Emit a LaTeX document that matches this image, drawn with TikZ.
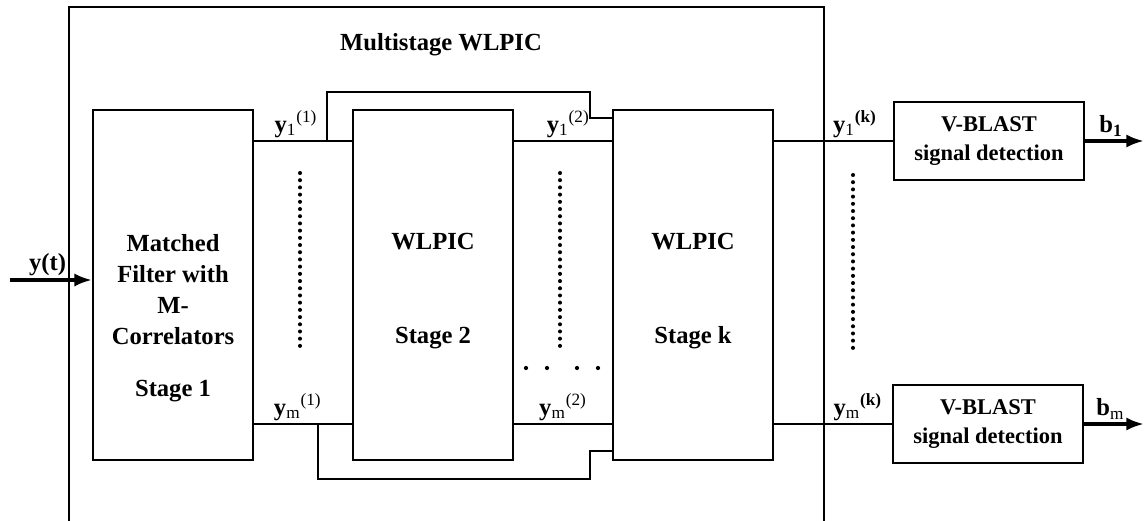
\documentclass[tikz,border=0pt]{standalone}
\usepackage{fontspec}
\setmainfont{Liberation Serif}
\usetikzlibrary{positioning,arrows.meta}

\begin{document}
\begin{tikzpicture}[x=0.02cm, y=-0.02cm, >={Latex[length=10pt,width=7.5pt]},
    every node/.style={font=\bfseries\fontsize{14}{17.6}\selectfont},
    % styles
    stagebox/.style={
        draw, line width=1.1pt, minimum width=3.2cm, minimum height=7cm, inner sep=0pt
    },
    stagetxt/.style={
        align=center, inner sep=0pt
    },
    vbbox/.style={
        draw, line width=1.1pt, minimum width=3.8cm, minimum height=1.56cm,
        align=center, font=\bfseries\fontsize{12.8}{16}\selectfont
    },
    wire/.style={
        line width=1.1pt
    },
    sig/.style={
        ->, line width=2pt
    },
    frame/.style={
        line width=1pt
    },
    lbl/.style={
        above, inner sep=1.5pt
    },
    vdots/.style={
        line width=2.3pt, line cap=round, dash pattern=on 0pt off 4.1pt
    }
]
\useasboundingbox (0,0) rectangle (1144,521);

% outer frame (cut at the bottom)
\draw[frame] (69,521) |- (824,7) -- (824,521);
\node (title) at (441,45) {Multistage WLPIC};

% =============================================
% stages
% =============================================
\node[stagebox] (s1) at (173,285) {};
\node[stagetxt] (s1txt) at (173,318) {Matched\\Filter with\\M-\\Correlators\\[12pt]Stage 1};

\node[stagebox] (s2) at (433,285) {};
\node[stagetxt] (s2txt) at (433,291) {WLPIC\\[36pt]Stage 2};

\node[stagebox] (sk) at (693,285) {};
\node[stagetxt] (sktxt) at (693,291) {WLPIC\\[36pt]Stage k};

% detectors
\node[vbbox] (vb1) at (989,141) {V-BLAST\\signal detection};
\node[vbbox] (vbm) at (988,424) {V-BLAST\\signal detection};

% =============================================
% signal lines
% =============================================
\coordinate (yin) at (10,280);
\draw[sig] (yin) -- (s1.west |- yin) node[lbl, midway, xshift=-2pt] {y(t)};

\draw[wire] (s1.east |- vb1) -- (s2.west |- vb1)
    node[lbl, midway, xshift=-4pt] {y\textsubscript{\mdseries 1}\textsuperscript{\mdseries (1)}};
\draw[wire] (s2.east |- vb1) -- (sk.west |- vb1)
    node[lbl, midway, xshift=3pt] {y\textsubscript{\mdseries 1}\textsuperscript{\mdseries (2)}};
\draw[wire] (sk.east |- vb1) -- (vb1.west)
    node[lbl, pos=0.68] {y\textsubscript{\mdseries 1}\textsuperscript{(k)}};

\draw[wire] (s1.east |- vbm) -- (s2.west |- vbm)
    node[lbl, midway, xshift=-3pt] {y\textsubscript{\mdseries m}\textsuperscript{\mdseries (1)}};
\draw[wire] (s2.east |- vbm) -- (sk.west |- vbm)
    node[lbl, midway] {y\textsubscript{\mdseries m}\textsuperscript{\mdseries (2)}};
\draw[wire] (sk.east |- vbm) -- (vbm.west)
    node[lbl, pos=0.71] {y\textsubscript{\mdseries m}\textsuperscript{(k)}};

% feedback from stage 1 to stage k
\coordinate (fbt) at (327,141);
\coordinate (fbtin) at (590,118);
\draw[wire] (fbt) |- (fbtin |- 0,92) -- (fbtin) -- (sk.west |- fbtin);

\coordinate (fbb) at (318,424);
\coordinate (fbbin) at (590,451);
\draw[wire] (fbb) -- ++(0,55) -| (fbbin) -- (sk.west |- fbbin);

% outputs
\coordinate (b1out) at (1144,141);
\coordinate (bmout) at (1144,424);
\draw[sig] (vb1.east) -- (b1out) node[lbl, midway, xshift=-2pt] {b\textsubscript{1}};
\draw[sig] (vbm.east) -- (bmout) node[lbl, midway, xshift=-2pt] {b\textsubscript{\mdseries m}};

% =============================================
% dots
% =============================================
\draw[vdots] (300,173) -- (300,349);
\draw[vdots] (560,173) -- (560,349);
\draw[vdots] (853,175) -- (853,351);
\foreach \x in {526,547,577,598}
    \fill (\x,368) circle (1.2pt);

\end{tikzpicture}
\end{document}
